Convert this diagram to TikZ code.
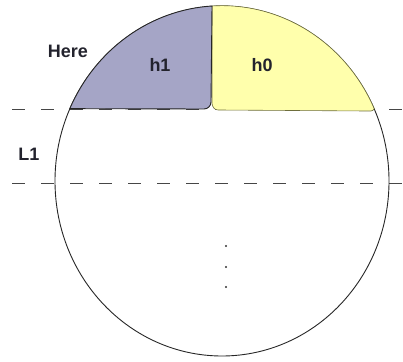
\documentclass[tikz,border=0pt]{standalone}
\usepackage{fontspec}
\setmainfont{Liberation Sans}
\definecolor{hone}{RGB}{165,165,198}
\definecolor{hzero}{RGB}{255,255,172}
\definecolor{olive}{RGB}{110,110,60}
\definecolor{txt}{RGB}{35,35,45}
\definecolor{dashc}{RGB}{70,70,70}
\tikzset{
  lbl/.style={font=\fontsize{18}{21}\selectfont\bfseries, text=txt, inner sep=0pt},
  dline/.style={draw=dashc, line width=0.8pt, dash pattern=on 13pt off 16pt},
  dotmark/.style={circle, fill=black!80, inner sep=0pt, minimum size=2.2pt},
}
\begin{document}
\begin{tikzpicture}[x=1pt,y=1pt]
\useasboundingbox (0,0) rectangle (403,361);
% dashed level lines
\draw[dline] (12,252) -- (403,252);
\draw[dline] (12,178) -- (403,178);
% ball outline
\draw[line width=0.9pt, black!85] (222,180) ellipse [x radius=167, y radius=175];
% h0 region
\path[fill=hzero, draw=olive, line width=0.6pt]
  (212,355) arc[start angle=93.43, end angle=24.3, x radius=167, y radius=175]
  to[out=-110,in=0] (366,250) -- (218,251) to[out=180,in=-90] (212,258) -- cycle;
% h1 region
\path[fill=hone, draw=black!85, line width=0.9pt]
  (212,355) arc[start angle=93.43, end angle=155.7, x radius=167, y radius=175]
  -- (204,252) to[out=0,in=-90] (211,259) -- cycle;
% labels
\node[lbl] (here) at (68,310) {Here};
\node[lbl] (h1) at (160,296) {h1};
\node[lbl] (h0) at (262,296) {h0};
\node[lbl] (L1) at (29,207) {L1};
% vertical ellipsis
\node[dotmark] (d1) at (226,115) {};
\node[dotmark] (d2) at (226,94) {};
\node[dotmark] (d3) at (226,74) {};
\end{tikzpicture}
\end{document}
